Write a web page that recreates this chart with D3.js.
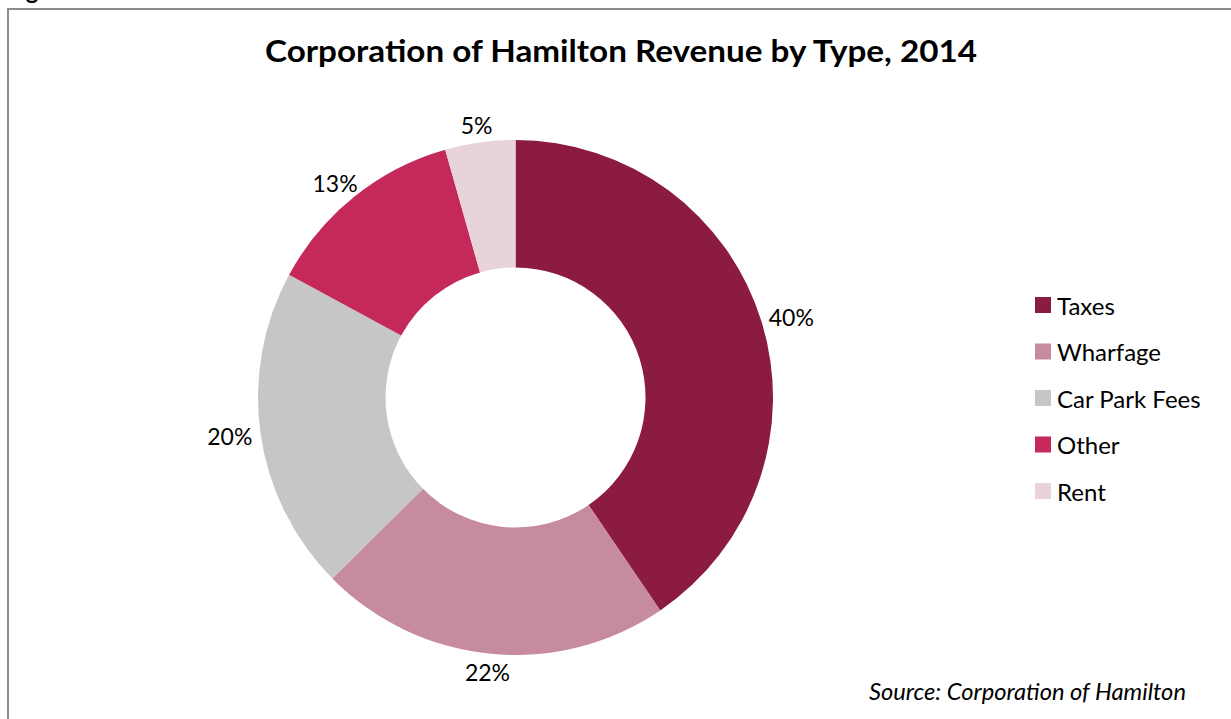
<!DOCTYPE html>
<html>
<head>
<meta charset="utf-8">
<script src="https://cdn.jsdelivr.net/npm/d3@7"></script>
<style>
  html, body { margin: 0; padding: 0; background: #fff; }
  svg { display: block; }
</style>
</head>
<body>
<svg id="chart" width="1231" height="719"></svg>
<script>
const categories = ["Taxes", "Wharfage", "Car Park Fees", "Other", "Rent"];
const values = [40.5, 22.1, 20.3, 12.7, 4.4];
const labels = ["40%", "22%", "20%", "13%", "5%"];
const colors = ["#8B1B41", "#C68B9E", "#C6C6C6", "#C5295A", "#E8D3DA"];
const titleText = "Corporation of Hamilton Revenue by Type, 2014";
const sourceText = "Source: Corporation of Hamilton";

const svg = d3.select("#chart");
const font = "Lato, 'Open Sans', sans-serif";

// clipped figure caption above frame (cut off in the reference too)
svg.append("text").attr("x", 6).attr("y", -1)
  .attr("font-family", font).attr("font-weight", 700).attr("font-size", 24)
  .attr("fill", "#000").text("Figure");

// frame
svg.append("rect").attr("x", 8).attr("y", 9).attr("width", 1240).attr("height", 730)
  .attr("fill", "none").attr("stroke", "#8c8c8c").attr("stroke-width", 2);

// title
svg.append("text").attr("x", 621).attr("y", 62).attr("text-anchor", "middle")
  .attr("font-family", font).attr("font-weight", 700).attr("font-size", 30)
  .attr("textLength", 712).attr("lengthAdjust", "spacingAndGlyphs")
  .attr("fill", "#000").text(titleText);

const cx = 515.5, cy = 397.5, rOuter = 257.5, rInner = 130;
const pie = d3.pie().sort(null).value(d => d)(values);
const arc = d3.arc().innerRadius(rInner).outerRadius(rOuter);
const g = svg.append("g").attr("transform", `translate(${cx},${cy})`);
g.selectAll("path").data(pie).join("path")
  .attr("d", arc).attr("fill", (d, i) => colors[i]);

// labels
const r0 = 266;
const lblSel = g.selectAll("text.lbl").data(pie).join("text")
  .attr("class", "lbl")
  .attr("font-family", font).attr("font-size", 23).attr("fill", "#000")
  .attr("text-anchor", "middle").attr("dominant-baseline", "central")
  .text((d, i) => labels[i]);
lblSel.each(function(d) {
  const bb = this.getBBox();
  const a = (d.startAngle + d.endAngle) / 2;
  const dx = Math.sin(a), dy = -Math.cos(a);
  const x = dx * r0 + dx * bb.width / 2;
  const y = dy * r0 + dy * 19 / 2;
  d3.select(this).attr("x", x).attr("y", y);
});

// legend
const legY = d3.scalePoint().domain(categories).range([305, 491]);
const leg = svg.append("g");
categories.forEach((c, i) => {
  leg.append("rect").attr("x", 1035).attr("y", legY(c) - 8).attr("width", 16).attr("height", 16)
    .attr("fill", colors[i]);
  leg.append("text").attr("x", 1057).attr("y", legY(c)).attr("dominant-baseline", "central")
    .attr("font-family", font).attr("font-size", 24).attr("fill", "#000").text(c);
});

// source
svg.append("text").attr("x", 1186).attr("y", 700).attr("text-anchor", "end")
  .attr("font-family", font).attr("font-style", "italic").attr("font-size", 23)
  .attr("textLength", 317).attr("lengthAdjust", "spacingAndGlyphs")
  .attr("fill", "#000").text(sourceText);
</script>
</body>
</html>
